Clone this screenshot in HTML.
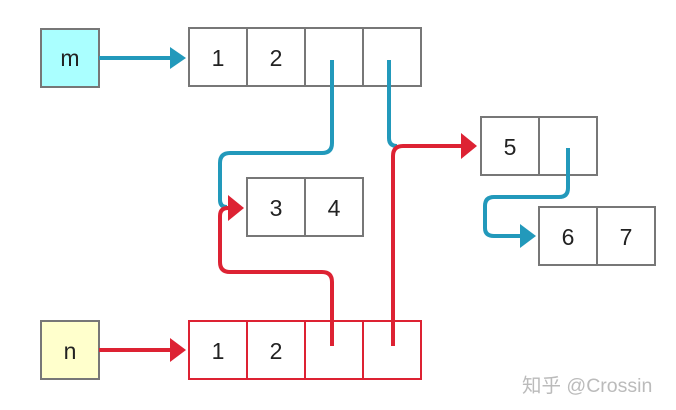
<!DOCTYPE html>
<html><head><meta charset="utf-8"><style>
html,body{margin:0;padding:0;background:#fff;}
svg{display:block;}
text{font-family:"Liberation Sans",sans-serif;font-size:23px;fill:#222;}
</style></head><body>
<svg width="676" height="410" viewBox="0 0 676 410">
<rect x="0" y="0" width="676" height="410" fill="#fff"/>
<g>
<rect x="41" y="29" width="58" height="58" fill="#aaffff" stroke="#777" stroke-width="2"/>
<text x="70" y="66" text-anchor="middle">m</text></g>
<g>
<rect x="41" y="321" width="58" height="58" fill="#ffffcc" stroke="#777" stroke-width="2"/>
<text x="70" y="359" text-anchor="middle">n</text></g>
<g fill="#fff" stroke="#777" stroke-width="2">
<rect x="189" y="28" width="58" height="58"/><rect x="247" y="28" width="58" height="58"/>
<rect x="305" y="28" width="58" height="58"/><rect x="363" y="28" width="58" height="58"/></g>
<text x="218" y="66" text-anchor="middle">1</text><text x="276" y="66" text-anchor="middle">2</text>
<g fill="#fff" stroke="#dd2233" stroke-width="2">
<rect x="189" y="321" width="58" height="58"/><rect x="247" y="321" width="58" height="58"/>
<rect x="305" y="321" width="58" height="58"/><rect x="363" y="321" width="58" height="58"/></g>
<text x="218" y="359" text-anchor="middle">1</text><text x="276" y="359" text-anchor="middle">2</text>
<g fill="#fff" stroke="#777" stroke-width="2">
<rect x="247" y="178" width="58" height="58"/><rect x="305" y="178" width="58" height="58"/></g>
<text x="276" y="216" text-anchor="middle">3</text><text x="334" y="216" text-anchor="middle">4</text>
<g fill="#fff" stroke="#777" stroke-width="2">
<rect x="481" y="117" width="58" height="58"/><rect x="539" y="117" width="58" height="58"/></g>
<text x="510" y="155" text-anchor="middle">5</text>
<g fill="#fff" stroke="#777" stroke-width="2">
<rect x="539" y="207" width="58" height="58"/><rect x="597" y="207" width="58" height="58"/></g>
<text x="568" y="245" text-anchor="middle">6</text><text x="626" y="245" text-anchor="middle">7</text>
<g fill="none" stroke="#2299bb" stroke-width="4">
<line x1="99" y1="58" x2="172" y2="58"/>
<path d="M332 60 V143 Q332 153 322 153 H230 Q220 153 220 163 V200 Q220 207 227 207"/>
<path d="M389 60 V138 Q389 146 397 146"/>
<path d="M568 148 V188 Q568 197 559 197 H494 Q485 197 485 206 V228 Q485 236 494 236 H520"/>
</g>
<polygon points="170,47 186,58 170,69" fill="#2299bb"/>
<polygon points="520,224 536,236 520,248" fill="#2299bb"/>
<g fill="none" stroke="#dd2233" stroke-width="4">
<line x1="99" y1="350" x2="172" y2="350"/>
<path d="M332 346 V282 Q332 272 322 272 H230 Q220 272 220 262 V216 Q220 208 228 208"/>
<path d="M393 346 V156 Q393 146 403 146 H462"/>
</g>
<polygon points="170,338 186,350 170,362" fill="#dd2233"/>
<polygon points="228,195 244,208 228,221" fill="#dd2233"/>
<polygon points="461,133 477,146 461,159" fill="#dd2233"/>
<text x="522" y="392" style="font-family:'Liberation Sans','Noto Sans CJK SC',sans-serif;font-size:19.5px;fill:#bbb;">知乎 @Crossin</text>
</svg>
</body></html>
